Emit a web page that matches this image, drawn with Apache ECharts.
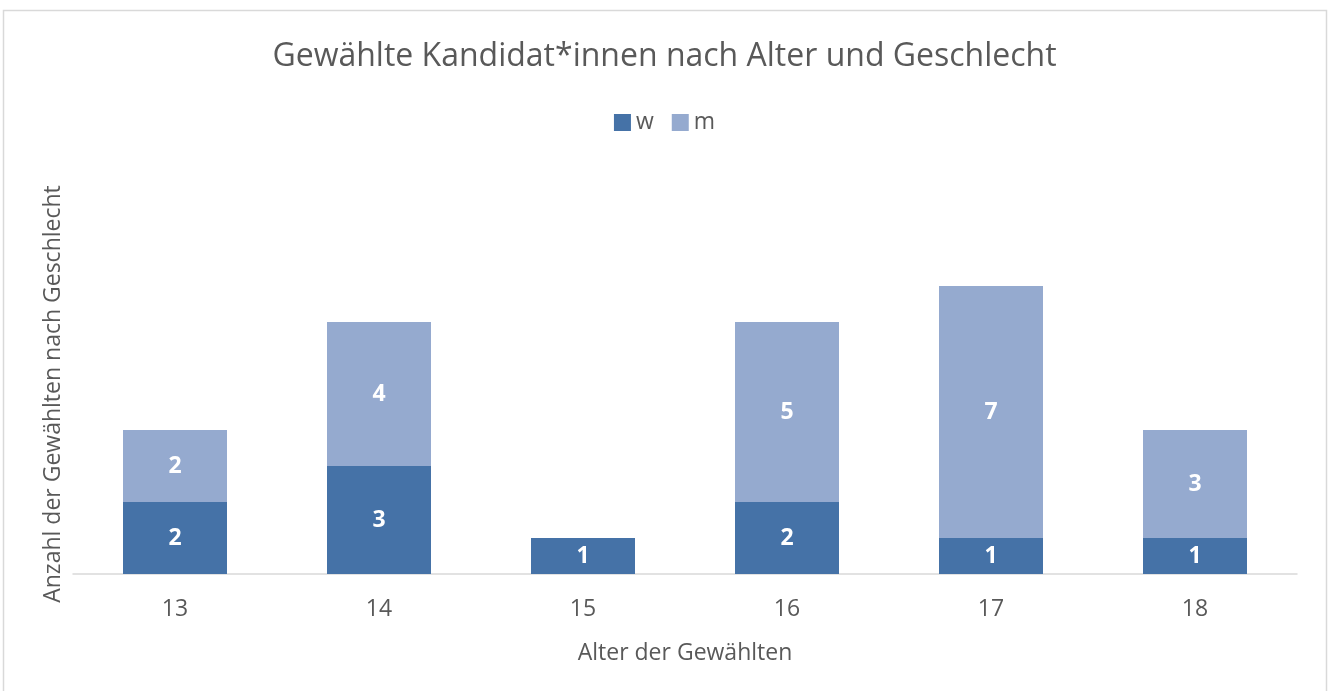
<!DOCTYPE html>
<html><head><meta charset="utf-8">
<script src="https://cdn.jsdelivr.net/npm/echarts@6/dist/echarts.min.js"></script>
<style>html,body{margin:0;padding:0;background:#fff}#c{width:1329px;height:691px}</style>
</head><body><div id="c"></div>
<script>
const categories = ['13','14','15','16','17','18'];
const seriesW = [2,3,1,2,1,1];
const seriesM = [2,4,0,5,7,3];
const FONT = '"Open Sans", "Noto Sans", sans-serif';
const chart = echarts.init(document.getElementById('c'));
const lbl = {show:true, position:'inside', color:'#fff', fontWeight:'bold', fontSize:23, fontFamily:FONT,
  formatter:p => p.value ? String(p.value) : ''};
chart.setOption({
  animation:false,
  graphic:[{type:'rect', shape:{x:3.5,y:10.5,width:1323,height:700}, style:{fill:'none', stroke:'#d9d9d9', lineWidth:1.5}, silent:true}],
  title:{text:'Gewählte Kandidat*innen nach Alter und Geschlecht', left:'center', top:36,
    textStyle:{fontFamily:FONT, fontSize:32, fontWeight:'normal', color:'#595959'}},
  legend:{data:['w','m'], top:106, left:'center', itemWidth:17, itemHeight:17, itemGap:18, icon:'rect',
    textStyle:{fontFamily:FONT, fontSize:23, color:'#595959'}},
  grid:{left:73, right:32, top:214, bottom:117, containLabel:false},
  xAxis:{type:'category', data:categories, name:'Alter der Gewählten', nameLocation:'middle', nameGap:68,
    nameTextStyle:{fontFamily:FONT, fontSize:23, color:'#595959'},
    axisLine:{lineStyle:{color:'#d9d9d9', width:1.5}}, axisTick:{show:false},
    axisLabel:{fontFamily:FONT, fontSize:23, color:'#595959', margin:24}},
  yAxis:{type:'value', min:0, max:10, interval:1, show:true,
    name:'Anzahl der Gewählten nach Geschlecht', nameLocation:'middle', nameGap:8,
    nameTextStyle:{fontFamily:FONT, fontSize:23, color:'#595959'},
    axisLine:{show:false}, axisTick:{show:false}, axisLabel:{show:false}, splitLine:{show:false}},
  series:[
    {name:'w', type:'bar', stack:'a', data:seriesW, barWidth:104, itemStyle:{color:'#4572A7'}, label:lbl},
    {name:'m', type:'bar', stack:'a', data:seriesM, barWidth:104, itemStyle:{color:'#95AACF'}, label:lbl}
  ]
});
</script></body></html>
